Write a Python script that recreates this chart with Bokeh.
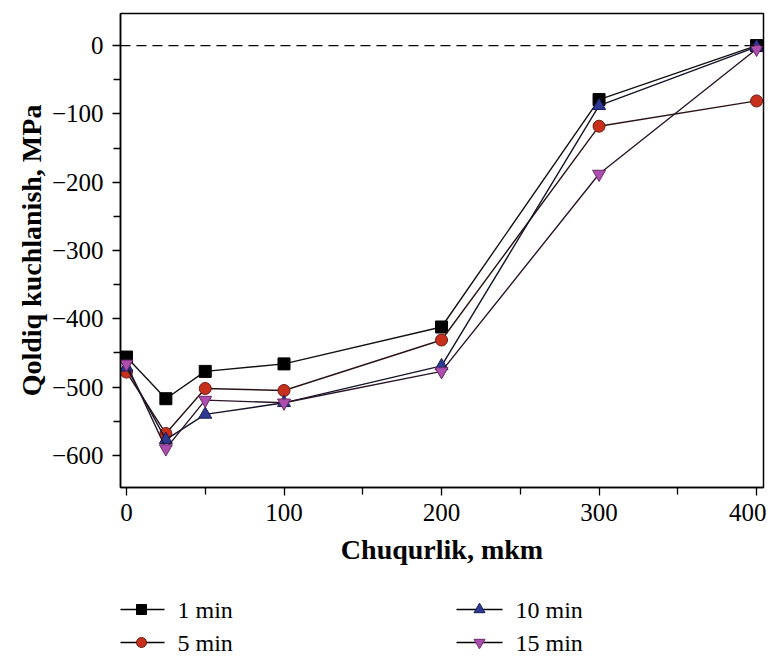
from bokeh.plotting import figure
from bokeh.models import Span, FixedTicker, Range1d
from bokeh.layouts import column
from bokeh.core.properties import value
from bokeh.embed import file_html
from bokeh.resources import INLINE

depth = [0, 25, 50, 100, 200, 300, 400]
s1 = [-456, -517, -477, -466, -412, -79, 0]
s5 = [-478, -568, -502, -505, -431, -118, -81]
s10 = [-471, -577, -540, -523, -469, -88, -2]
s15 = [-466, -590, -519, -523, -477, -188, -5]
labels = ["1 min", "5 min", "10 min", "15 min"]
x_ticks = [0, 100, 200, 300, 400]
y_ticks = [0, -100, -200, -300, -400, -500, -600]

FONT = "Liberation Serif"
markers = ["square", "circle", "triangle", "inverted_triangle"]
fills = ["#000000", "#c8301e", "#2c3a92", "#ad4dad"]
edges = ["#000000", "#6a1a10", "#1a1a5a", "#6a2a6a"]
lcols = ["#111111", "#2a1414", "#14142a", "#2a1428"]
sizes = [12, 12, 13, 13]

p = figure(width=766, height=575, output_backend="svg", toolbar_location=None,
           x_range=Range1d(-3.8, 404.4), y_range=Range1d(-647, 47),
           min_border_left=120, min_border_top=13, min_border_right=3, min_border_bottom=88)
p.grid.visible = False
p.outline_line_color = "black"
p.outline_line_width = 1.5

p.add_layout(Span(location=0, dimension="width", line_color="black",
                  line_dash="10 6", line_width=1.2))

for ys, mk, fc, ec, lc, sz in zip([s1, s5, s10, s15], markers, fills, edges, lcols, sizes):
    p.line(depth, ys, line_color=lc, line_width=1.4)
    p.scatter(depth, ys, marker=mk, size=sz, fill_color=fc, line_color=ec)

for ax in (p.xaxis[0], p.yaxis[0]):
    ax.axis_line_color = "black"
    ax.axis_line_width = 1.5
    ax.major_tick_out = 8
    ax.major_tick_in = 0
    ax.minor_tick_out = 7
    ax.minor_tick_in = 0
    ax.major_tick_line_width = 1.3
    ax.minor_tick_line_width = 1.3
    ax.major_label_text_font = FONT
    ax.major_label_text_font_size = "25px"
    ax.major_label_text_color = "black"
    ax.axis_label_text_font = FONT
    ax.axis_label_text_font_size = "28px"
    ax.axis_label_text_font_style = "bold"
    ax.axis_label_text_color = "black"

p.xaxis.ticker = FixedTicker(ticks=x_ticks, minor_ticks=[50, 150, 250, 350])
p.yaxis.ticker = FixedTicker(ticks=y_ticks, minor_ticks=[-50, -150, -250, -350, -450, -550])
p.xaxis.axis_label = "Chuqurlik, mkm"
p.yaxis.axis_label = "Qoldiq kuchlanish, MPa"
p.xaxis.major_label_standoff = 8
p.xaxis.axis_label_standoff = 10
p.yaxis.major_label_standoff = 9
p.yaxis.axis_label_standoff = 2
p.yaxis.major_label_overrides = {v: ("\u2212" + str(-v) if v < 0 else str(v)) for v in y_ticks}

# legend panel: x in page pixels, y in pixels from the panel top
lg = figure(width=766, height=80, output_backend="svg", toolbar_location=None,
            x_range=Range1d(120, 763), y_range=Range1d(80, 0),
            min_border_left=120, min_border_right=3, min_border_top=0, min_border_bottom=0)
lg.axis.visible = False
lg.grid.visible = False
lg.outline_line_color = None
col_x = [118, 456]
row_y = [34, 67]
for i, lab in enumerate(labels):
    cx = col_x[i // 2]
    cy = row_y[i % 2]
    lg.line([cx, cx + 46], [cy, cy], line_color="black", line_width=1.4)
    lg.scatter([cx + 23], [cy], marker=markers[i], size=sizes[i] - 2,
               fill_color=fills[i], line_color=edges[i])
    lg.text([cx + 59], [cy], text=[lab], text_font=value(FONT), text_font_size="24px",
            text_baseline="middle", text_align="left", text_color="black")

layout = column(p, lg, spacing=0)
open("out.html", "w").write(file_html(layout, INLINE))
